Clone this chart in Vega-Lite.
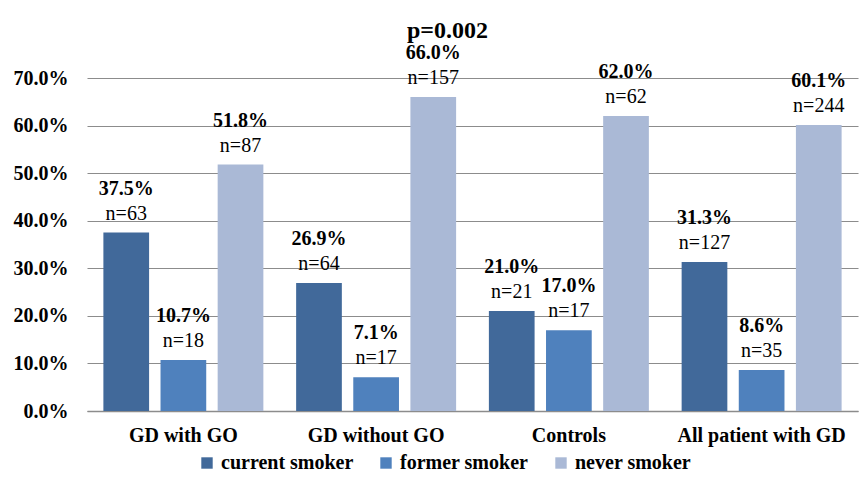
{
  "$schema": "https://vega.github.io/schema/vega-lite/v6.json",
  "width": 771,
  "height": 333,
  "autosize": {"type": "none"},
  "padding": {"left": 87, "top": 78, "right": 6, "bottom": 73},
  "background": "white",
  "title": {
    "text": "p=0.002",
    "font": "Liberation Serif",
    "fontSize": 24,
    "fontWeight": "bold",
    "color": "black",
    "anchor": "middle",
    "dx": -25,
    "offset": 0
  },
  "data": {
    "values": [
      {"group": "GD with GO", "status": "current smoker", "pct": 0.375, "nLabel": "n=63"},
      {"group": "GD with GO", "status": "former smoker", "pct": 0.107, "nLabel": "n=18"},
      {"group": "GD with GO", "status": "never smoker", "pct": 0.518, "nLabel": "n=87"},
      {"group": "GD without GO", "status": "current smoker", "pct": 0.269, "nLabel": "n=64"},
      {"group": "GD without GO", "status": "former smoker", "pct": 0.071, "nLabel": "n=17"},
      {"group": "GD without GO", "status": "never smoker", "pct": 0.66, "nLabel": "n=157"},
      {"group": "Controls", "status": "current smoker", "pct": 0.21, "nLabel": "n=21"},
      {"group": "Controls", "status": "former smoker", "pct": 0.17, "nLabel": "n=17"},
      {"group": "Controls", "status": "never smoker", "pct": 0.62, "nLabel": "n=62"},
      {"group": "All patient with GD", "status": "current smoker", "pct": 0.313, "nLabel": "n=127"},
      {"group": "All patient with GD", "status": "former smoker", "pct": 0.086, "nLabel": "n=35"},
      {"group": "All patient with GD", "status": "never smoker", "pct": 0.601, "nLabel": "n=244"}
    ]
  },
  "encoding": {
    "x": {
      "field": "group",
      "type": "nominal",
      "sort": ["GD with GO", "GD without GO", "Controls", "All patient with GD"],
      "scale": {"paddingInner": 0.17, "paddingOuter": 0.085},
      "axis": {
        "title": null,
        "labelAngle": 0,
        "labelFont": "Liberation Serif",
        "labelFontSize": 20,
        "labelFontWeight": "bold",
        "labelColor": "black",
        "labelPadding": 14,
        "ticks": false,
        "domainColor": "#8c8c8c",
        "domainWidth": 1.5,
        "grid": false
      }
    },
    "xOffset": {
      "field": "status",
      "type": "nominal",
      "scale": {"paddingInner": 0.2, "paddingOuter": 0}
    },
    "y": {
      "field": "pct",
      "type": "quantitative",
      "scale": {"domain": [0, 0.7], "nice": false},
      "axis": {
        "title": null,
        "format": ".1%",
        "values": [0, 0.1, 0.2, 0.3, 0.4, 0.5, 0.6, 0.7],
        "labelOverlap": false,
        "labelFont": "Liberation Serif",
        "labelFontSize": 20,
        "labelFontWeight": "bold",
        "labelColor": "black",
        "labelPadding": 19,
        "ticks": false,
        "domain": false,
        "gridColor": "#8c8c8c",
        "gridWidth": 1.2
      }
    }
  },
  "layer": [
    {
      "mark": {"type": "bar"},
      "encoding": {
        "color": {
          "field": "status",
          "type": "nominal",
          "scale": {
            "domain": ["current smoker", "former smoker", "never smoker"],
            "range": ["#41699a", "#4f81bd", "#aab9d6"]
          },
          "legend": {
            "title": null,
            "orient": "none",
            "legendX": 110,
            "legendY": 375,
            "direction": "horizontal",
            "symbolType": "square",
            "symbolSize": 130,
            "symbolStrokeWidth": 0,
            "labelOffset": 4,
            "labelFont": "Liberation Serif",
            "labelFontSize": 20,
            "labelFontWeight": "bold",
            "labelColor": "black",
            "labelLimit": 300,
            "columnPadding": 22
          }
        }
      }
    },
    {
      "mark": {
        "type": "text",
        "baseline": "alphabetic",
        "dy": -13,
        "font": "Liberation Serif",
        "fontSize": 20,
        "color": "black"
      },
      "encoding": {"text": {"field": "nLabel"}}
    },
    {
      "mark": {
        "type": "text",
        "baseline": "alphabetic",
        "dy": -38,
        "font": "Liberation Serif",
        "fontSize": 20,
        "fontWeight": "bold",
        "color": "black"
      },
      "encoding": {"text": {"field": "pct", "type": "quantitative", "format": ".1%"}}
    }
  ],
  "config": {"view": {"stroke": null}}
}
